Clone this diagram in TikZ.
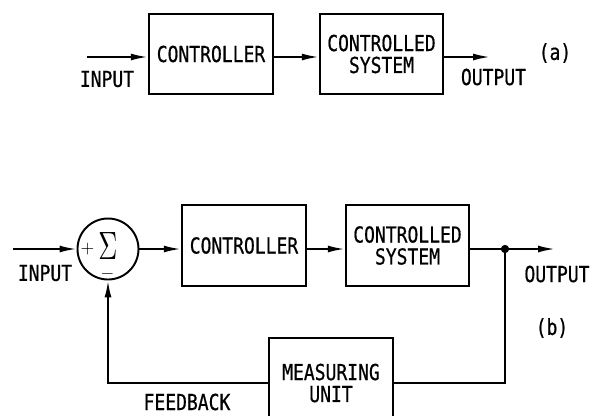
\documentclass[tikz,border=0pt]{standalone}
\usepackage{fontspec}
\usepackage{graphicx}
\usepackage{tikz}
\usetikzlibrary{arrows.meta,calc,positioning}
\newfontfamily\letterfont[FakeStretch=0.82,FakeBold=0.6]{DejaVu Sans Mono}

\tikzset{
  block/.style={draw, line width=1.4pt, minimum width=2.48cm, minimum height=1.6cm,
    align=center, inner sep=0pt, font=\letterfont\fontsize{12.5}{12.5}\selectfont},
  signal/.style={line width=1.1pt, -{Latex[length=0.34cm,width=0.14cm]}},
  wire/.style={line width=1.1pt},
  lbl/.style={font=\letterfont\fontsize{12.5}{12.5}\selectfont, inner sep=0pt}
}

\begin{document}
\begin{tikzpicture}[scale=1]
          % Page frame
          \clip (0,0) rectangle (12.2,-8.3);
          % ---------- (a) open loop ----------
          \node[block] (ctrlA) at (4.22,-1.08) {CONTROLLER};
          \node[block, minimum width=2.46cm] (sysA) at (7.63,-1.08) {CONTROLLED\\SYSTEM};
          \coordinate (inA) at (1.74,-1.14);
          \coordinate (outA) at (9.80,-1.14);
          % Signal path
          \draw[signal] (inA) -- (inA -| ctrlA.west);
          \draw[signal] (ctrlA.east |- inA) -- (sysA.west |- inA);
          \draw[signal] (sysA.east |- inA) -- (outA);
          % Labels
          \node[lbl] (inlblA) at (2.14,-1.58) {INPUT};
          \node[lbl] (outlblA) at (9.87,-1.54) {OUTPUT};
          \node[lbl] (tagA) at (11.10,-1.06) {(a)};
          % ---------- (b) closed loop ----------
          \node[draw, circle, line width=1.1pt, minimum size=1.22cm, inner sep=0pt] (sum) at (2.16,-4.98) {};
          \node[inner sep=0pt] (sigma) at (2.16,-4.92) {\resizebox{0.38cm}{0.54cm}{$\Sigma$}};
          \node[inner sep=0pt] (plus) at (1.75,-4.98) {$+$};
          \node[inner sep=0pt] (minus) at (2.15,-5.48) {$-$};
          \node[block, minimum height=1.62cm] (ctrlB) at (4.88,-4.91) {CONTROLLER};
          \node[block, minimum width=2.46cm, minimum height=1.62cm] (sysB) at (8.15,-4.91) {CONTROLLED\\SYSTEM};
          \node[block, minimum height=1.8cm] (measB) at (6.62,-7.66) {MEASURING\\UNIT};
          \coordinate (inB) at (0.26,-4.98);
          \coordinate (jB) at (10.10,-4.98);
          \coordinate (outB) at (11.10,-4.98);
          % Forward path
          \draw[signal] (inB) -- (sum.west);
          \draw[signal] (sum.east) -- (sum -| ctrlB.west);
          \draw[signal] (ctrlB.east |- sum) -- (sysB.west |- sum);
          \draw[wire] (sysB.east |- sum) -- (jB);
          \draw[signal] (jB) -- (outB);
          \filldraw (jB) circle (0.075cm);
          % Feedback path
          \draw[wire] (jB) |- (measB.east);
          \draw[signal] (measB.west) -| (sum.south);
          % Labels
          \node[lbl] (inlblB) at (0.90,-5.46) {INPUT};
          \node[lbl] (outlblB) at (11.14,-5.48) {OUTPUT};
          \node[lbl] (tagB) at (11.04,-6.56) {(b)};
          \node[lbl] (fblbl) at (3.74,-8.04) {FEEDBACK};
        \end{tikzpicture}
\end{document}
